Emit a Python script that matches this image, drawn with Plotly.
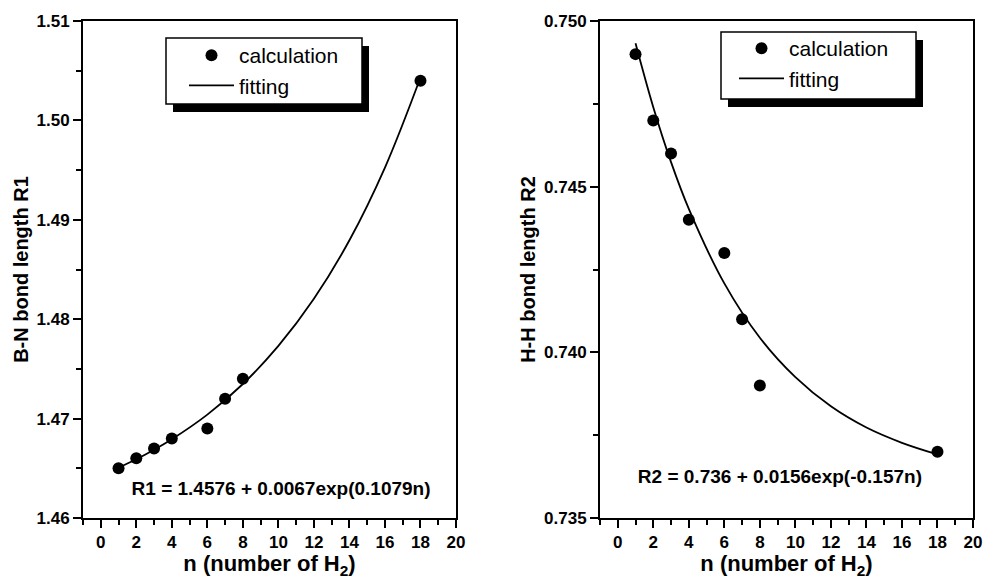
import plotly.graph_objects as go

# ---- data ----
n_calc = [1, 2, 3, 4, 6, 7, 8, 18]
r1_calc = [1.465, 1.466, 1.467, 1.468, 1.469, 1.472, 1.474, 1.504]
r2_calc = [0.749, 0.747, 0.746, 0.744, 0.743, 0.741, 0.739, 0.737]

n_fit = [1, 2, 3, 4, 6, 8, 10, 12, 14, 16, 18]
r1_fit = [1.46506, 1.46591, 1.46687, 1.46792, 1.47040, 1.47348, 1.47731, 1.48205, 1.48794, 1.49525, 1.50431]
r2_fit = [0.74933, 0.74740, 0.74574, 0.74433, 0.74208, 0.74044, 0.73925, 0.73837, 0.73773, 0.73727, 0.73692]

x_ticks = [0, 2, 4, 6, 8, 10, 12, 14, 16, 18, 20]
eq1 = "R1 = 1.4576 + 0.0067exp(0.1079n)"
eq2 = "R2 = 0.736 + 0.0156exp(-0.157n)"
# where the fit equations sit, in axis units
eq1_pos = (10.15, 1.46282)
eq2_pos = (9.13, 0.73621)

W, H = 985, 579
FONT = "Arial, Liberation Sans, sans-serif"

def px(x):
    return x / W

def py(y):
    return 1 - y / H

fig = go.Figure()
fig.add_trace(go.Scatter(x=n_calc, y=r1_calc, mode="markers", name="calculation",
                         marker=dict(color="black", size=12), xaxis="x", yaxis="y", legend="legend"))
fig.add_trace(go.Scatter(x=n_fit, y=r1_fit, mode="lines", name="fitting", line_shape="spline",
                         line=dict(color="black", width=1.8), xaxis="x", yaxis="y", legend="legend"))
fig.add_trace(go.Scatter(x=n_calc, y=r2_calc, mode="markers", name="calculation",
                         marker=dict(color="black", size=12), xaxis="x2", yaxis="y2", legend="legend2"))
fig.add_trace(go.Scatter(x=n_fit, y=r2_fit, mode="lines", name="fitting", line_shape="spline",
                         line=dict(color="black", width=1.8), xaxis="x2", yaxis="y2", legend="legend2"))

eqfont = dict(family=FONT, size=19, color="black", weight="bold")
fig.add_trace(go.Scatter(x=[eq1_pos[0]], y=[eq1_pos[1]], mode="text", text=[eq1],
                         textposition="middle center", textfont=eqfont, showlegend=False,
                         hoverinfo="skip", xaxis="x", yaxis="y"))
fig.add_trace(go.Scatter(x=[eq2_pos[0]], y=[eq2_pos[1]], mode="text", text=[eq2],
                         textposition="middle center", textfont=eqfont, showlegend=False,
                         hoverinfo="skip", xaxis="x2", yaxis="y2"))

tickfont = dict(family=FONT, size=17, color="black", weight="bold")
titlefont = dict(family=FONT, size=22, color="black", weight="bold")
ytitlefont = dict(family=FONT, size=20, color="black", weight="bold")

def xaxis(domain, anchor):
    return dict(domain=domain, anchor=anchor, range=[-1, 20], tickmode="array", tickvals=x_ticks,
                ticks="outside", ticklen=8, tickwidth=1.5, tickcolor="black", automargin=False,
                minor=dict(dtick=1, tick0=0, ticks="outside", ticklen=5, tickwidth=1.5, tickcolor="black"),
                showline=True, linecolor="black", linewidth=2, mirror=True, showgrid=False, zeroline=False,
                tickfont=tickfont,
                title=dict(text="n (number of H<sub>2</sub>)", font=titlefont, standoff=5))

def yaxis(anchor, rng, dtick, fmt, title):
    return dict(domain=[py(518), py(21)], anchor=anchor, range=rng, dtick=dtick, tick0=rng[0],
                tickformat=fmt, automargin=False,
                ticks="outside", ticklen=8, tickwidth=1.5, tickcolor="black",
                minor=dict(dtick=dtick / 2, ticks="outside", ticklen=5, tickwidth=1.5, tickcolor="black"),
                showline=True, linecolor="black", linewidth=2, mirror=True, showgrid=False, zeroline=False,
                tickfont=tickfont,
                title=dict(text=title, font=ytitlefont, standoff=3))

legfont = dict(family=FONT, size=21, color="black")
layout = dict(
    width=W, height=H, margin=dict(l=0, r=0, t=0, b=0, autoexpand=False),
    paper_bgcolor="white", plot_bgcolor="white",
    xaxis=xaxis([px(83), px(456)], "y"),
    xaxis2=xaxis([px(600), px(973)], "y2"),
    yaxis=yaxis("x", [1.46, 1.51], 0.01, ".2f", "B-N bond length R1"),
    yaxis2=yaxis("x2", [0.735, 0.750], 0.005, ".3f", "H-H bond length R2"),
    legend=dict(x=px(184), y=py(35), xanchor="left", yanchor="top", bgcolor="rgba(0,0,0,0)",
                borderwidth=0, itemwidth=45, font=legfont),
    legend2=dict(x=px(734), y=py(28), xanchor="left", yanchor="top", bgcolor="rgba(0,0,0,0)",
                 borderwidth=0, itemwidth=45, font=legfont),
    showlegend=True,
)
fig.update_layout(**layout)

# legend frames with drop shadow
for (x0, y0, x1, y1) in [(166, 38, 362, 104), (721, 32, 916, 99)]:
    fig.add_shape(type="rect", xref="paper", yref="paper", x0=px(x0 + 7), x1=px(x1 + 7),
                  y0=py(y0 + 8), y1=py(y1 + 8), fillcolor="black", line=dict(width=0), layer="above")
    fig.add_shape(type="rect", xref="paper", yref="paper", x0=px(x0), x1=px(x1),
                  y0=py(y0), y1=py(y1), fillcolor="white", line=dict(color="black", width=1.5), layer="above")

fig.write_html("out.html", config={"displayModeBar": False},
               post_script="document.body.style.margin='0';document.body.style.overflow='hidden';")
